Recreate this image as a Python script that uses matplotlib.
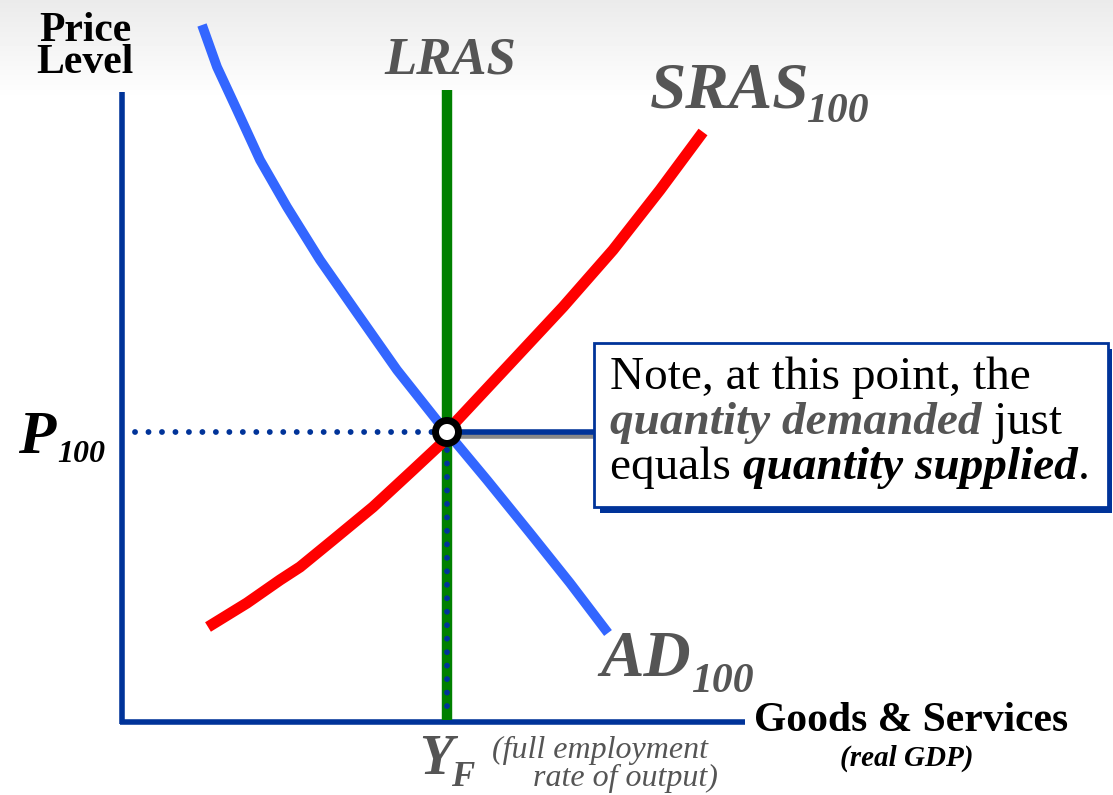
import numpy as np
import matplotlib
matplotlib.use("Agg")
import matplotlib.pyplot as plt
from matplotlib.patches import Rectangle, Circle

plt.rcParams['font.family'] = ['Liberation Serif', 'DejaVu Serif']

# curve points (pixel-like units, y grows downward)
ad_x = [202, 217, 237, 260, 287, 320, 357, 397, 443, 447, 487, 530, 570, 608]
ad_y = [25, 67, 110, 160, 207, 260, 313, 370, 428, 432, 480, 533, 583, 633]
sras_x = [208, 247, 280, 300, 333, 373, 413, 443, 447, 450, 507, 563, 613, 660, 703]
sras_y = [627, 603, 580, 567, 540, 507, 470, 442, 432, 428, 367, 307, 250, 190, 132]
lras_x = 447
p_level = 432
axis_origin = (122, 722)
note_lines = [
    [("Note, at this point, the", 'black', 'normal', 'normal')],
    [("quantity demanded", '#555555', 'italic', 'bold'), (" just", 'black', 'normal', 'normal')],
    [("equals ", 'black', 'normal', 'normal'), ("quantity supplied", 'black', 'italic', 'bold'),
     (".", 'black', 'normal', 'normal')],
]

W, H = 1113, 795
fig = plt.figure(figsize=(W / 100, H / 100), dpi=100)
ax = fig.add_axes([0, 0, 1, 1])
ax.set_xlim(0, W)
ax.set_ylim(H, 0)
ax.axis('off')

# faint gray wash across the top
grad = np.linspace(0.92, 1.0, 100).reshape(-1, 1)
ax.imshow(grad, cmap='gray', vmin=0, vmax=1, extent=[0, W, 100, 0],
          aspect='auto', zorder=0)

navy = '#003399'
gray = '#555555'

# axes
ox, oy = axis_origin
ax.plot([ox, ox], [92, oy + 2], color=navy, lw=4, solid_capstyle='butt', zorder=2)
ax.plot([ox - 2, 745], [oy, oy], color=navy, lw=4, solid_capstyle='butt', zorder=2)

# LRAS
ax.plot([lras_x, lras_x], [90, oy - 2], color='#008000', lw=7.5,
        solid_capstyle='butt', zorder=3)

# curves
ax.plot(ad_x, ad_y, color='#3366ff', lw=7, solid_capstyle='butt',
        solid_joinstyle='round', zorder=4)
ax.plot(sras_x, sras_y, color='#ff0000', lw=8, solid_capstyle='butt',
        solid_joinstyle='round', zorder=4)

# dotted guides
dots = (0, (0.01, 2.3))
ax.plot([135, lras_x - 14], [p_level, p_level], color=navy, lw=4.2,
        linestyle=dots, dash_capstyle='round', zorder=3)
ax.plot([lras_x, lras_x], [p_level + 18, oy - 4], color=navy, lw=4.2,
        linestyle=dots, dash_capstyle='round', zorder=5)

# connector to note box
ax.plot([460, 595], [p_level + 4, p_level + 4], color='#888888', lw=4,
        solid_capstyle='butt', zorder=3)
ax.plot([460, 595], [p_level, p_level], color=navy, lw=4,
        solid_capstyle='butt', zorder=3)

# equilibrium point
ax.add_patch(Circle((lras_x, p_level), 11.5, facecolor='white', edgecolor='black',
                    lw=5, zorder=6))

# note box with shadow
ax.add_patch(Rectangle((600, 349), 512, 164, facecolor=navy, edgecolor='none', zorder=5))
ax.add_patch(Rectangle((594, 343), 514, 164, facecolor='white', edgecolor=navy,
                       lw=2, zorder=6))

fig.canvas.draw()
renderer = fig.canvas.get_renderer()
inv = ax.transData.inverted()
fs = 34
for i, parts in enumerate(note_lines):
    x = 610
    y = 378 + 45 * i
    for txt, col, sty, wt in parts:
        t = ax.text(x, y, txt, fontsize=fs, color=col, style=sty, weight=wt,
                    va='center', zorder=7)
        bb = t.get_window_extent(renderer)
        x = inv.transform((bb.x1, bb.y0))[0]

# labels
ax.text(85, 47, "Price\nLevel", fontsize=30, weight='bold', ha='center',
        va='center', linespacing=0.82, color='black')
ax.text(450, 60, "LRAS", fontsize=38, weight='bold', style='italic', ha='center',
        va='center', color=gray)
ax.text(650, 92, "SRAS", fontsize=47, weight='bold', style='italic', ha='left',
        va='center', color=gray)
ax.text(806, 112, "100", fontsize=30, weight='bold', style='italic', ha='left',
        va='center', color=gray)
ax.text(600, 660, "AD", fontsize=47, weight='bold', style='italic', ha='left',
        va='center', color=gray)
ax.text(691, 682, "100", fontsize=30, weight='bold', style='italic', ha='left',
        va='center', color=gray)
ax.text(18, 438, "P", fontsize=44, weight='bold', style='italic', ha='left',
        va='center', color='black')
ax.text(57, 455, "100", fontsize=23, weight='bold', style='italic', ha='left',
        va='center', color='black')

ax.text(754, 721, "Goods & Services", fontsize=30, weight='bold', ha='left',
        va='center', color='black')
ax.text(907, 758, "(real GDP)", fontsize=21, weight='bold', style='italic',
        ha='center', va='center', color='black')

ax.text(419, 760, "Y", fontsize=40, weight='bold', style='italic', ha='left',
        va='center', color=gray)
ax.text(451, 778, "F", fontsize=25, weight='bold', style='italic', ha='left',
        va='center', color=gray)
ax.text(492, 750, "(full employment", fontsize=23, style='italic', ha='left',
        va='center', color=gray)
ax.text(533, 778, "rate of output)", fontsize=23, style='italic', ha='left',
        va='center', color=gray)

fig.savefig("out.png", dpi=100)
